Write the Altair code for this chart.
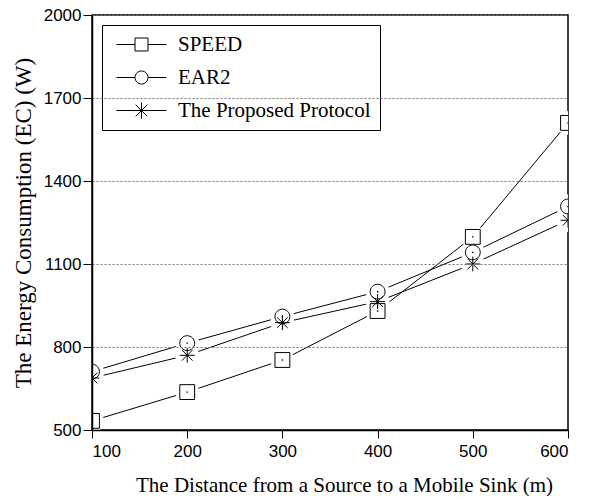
import altair as alt
import pandas as pd

distance = [100, 200, 300, 400, 500, 600]
speed = [533, 637, 753, 930, 1198, 1610]
ear2 = [711, 814, 910, 1000, 1142, 1308]
proposed = [688, 770, 888, 964, 1100, 1258]
series_names = ["SPEED", "EAR2", "The Proposed Protocol"]
y_ticks = [500, 800, 1100, 1400, 1700, 2000]
x_ticks = [100, 200, 300, 400, 500, 600]

rows = []
for name, vals in zip(series_names, [speed, ear2, proposed]):
    for d, v in zip(distance, vals):
        rows.append({"series": name, "distance": d, "ec": v})
df = pd.DataFrame(rows)

SQUARE = "M-1,-1L1,-1L1,1L-1,1Z"
CIRCLE = "M-1,0A1,1 0 1,1 1,0A1,1 0 1,1 -1,0Z"
STAR = "M-1,0L1,0M0,-1L0,1M-0.72,-0.72L0.72,0.72M-0.72,0.72L0.72,-0.72"

L = 3.85
LEG_SQUARE = f"M-{L},0L-1,0M1,0L{L},0M-1,-1L1,-1L1,1L-1,1Z"
LEG_CIRCLE = f"M-{L},0L-1,0M1,0L{L},0M-1,0A1,1 0 1,1 1,0A1,1 0 1,1 -1,0Z"
LEG_STAR = f"M-{L},0L{L},0M0,-1.25L0,1.25M-0.9,-0.9L0.9,0.9M-0.9,0.9L0.9,-0.9"

axis_common = dict(domainColor="black", tickColor="black", labelColor="black", titleColor="black",
                   labelFont="Liberation Sans", titleFont="Liberation Serif", titleFontWeight="normal",
                   domainWidth=1.5, tickWidth=1, zindex=1)

x_enc = alt.X("distance:Q", scale=alt.Scale(domain=[100, 600], nice=False),
              axis=alt.Axis(values=x_ticks, title="The Distance from a Source to a Mobile Sink (m)",
                            grid=False, tickSize=8, labelPadding=5, titlePadding=15, titleX=252,
                            labelFontSize=17, titleFontSize=21, format="d", **axis_common))
y_enc = alt.Y("ec:Q", scale=alt.Scale(domain=[500, 2000], nice=False),
              axis=alt.Axis(values=y_ticks, title="The Energy Consumption (EC) (W)",
                            grid=True, gridDash=[2, 2], gridColor="#777", gridWidth=1,
                            tickSize=9, labelPadding=2, titlePadding=8,
                            labelFontSize=17, titleFontSize=23, format="d", **axis_common))

base = alt.Chart(df)

lines = base.mark_line(color="black", strokeWidth=1, clip=True).encode(
    x=x_enc, y=y_enc, detail="series:N")

halo = base.mark_point(filled=True, color="white", opacity=1, shape="circle", size=560, clip=True).encode(
    x="distance:Q", y="ec:Q")

points = base.mark_point(filled=False, color="black", strokeWidth=1, opacity=1, clip=True).encode(
    x="distance:Q", y="ec:Q",
    shape=alt.Shape("series:N", scale=alt.Scale(domain=series_names, range=[SQUARE, CIRCLE, STAR]), legend=None),
    size=alt.Size("series:N", scale=alt.Scale(domain=series_names, range=[220, 220, 300]), legend=None),
)

dots = base.transform_filter(alt.datum.series != "The Proposed Protocol").mark_point(
    filled=True, color="black", shape="square", size=2, opacity=1, clip=True).encode(
    x="distance:Q", y="ec:Q")

legend_layer = base.transform_filter(alt.datum.distance < 0).mark_point(
    filled=False, color="black", opacity=1).encode(
    x="distance:Q", y="ec:Q",
    shape=alt.Shape("series:N", scale=alt.Scale(domain=series_names, range=[LEG_SQUARE, LEG_CIRCLE, LEG_STAR]),
                    legend=alt.Legend(title=None, orient="none", legendX=10, legendY=10,
                                      symbolSize=169, symbolStrokeColor="black", symbolStrokeWidth=1,
                                      symbolOffset=20, labelOffset=26, labelFontSize=21,
                                      labelFont="Liberation Serif", labelColor="black",
                                      rowPadding=11, padding=9, strokeColor="black",
                                      fillColor="white", cornerRadius=0,
                                      labelLimit=400)),
)

chart = alt.layer(lines, halo, points, dots, legend_layer).resolve_scale(
    shape="independent", size="independent"
).properties(
    width=476, height=415,
    padding={"left": 84, "top": 7, "right": 13, "bottom": 66},
    autosize=alt.AutoSizeParams(type="none"),
    background="white",
).configure_view(
    stroke="black", strokeWidth=1.5
)

chart.save("out.html", embed_options={"renderer": "svg", "actions": False})
